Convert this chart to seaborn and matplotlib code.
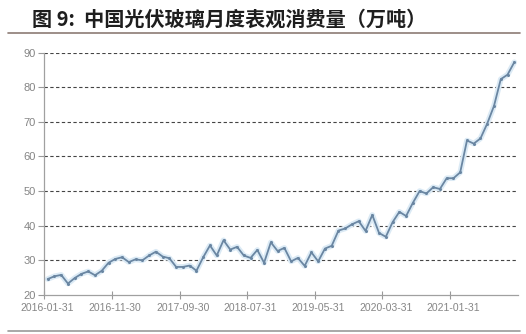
import numpy as np
import pandas as pd
import matplotlib
matplotlib.use("Agg")
import matplotlib.pyplot as plt
import seaborn as sns

title_text = "图 9:  中国光伏玻璃月度表观消费量（万吨）"
tick_labels = ["2016-01-31", "2016-11-30", "2017-09-30", "2018-07-31",
               "2019-05-31", "2020-03-31", "2021-01-31"]
y_ticks = [20, 30, 40, 50, 60, 70, 80, 90]
consumption = [
    24.6, 25.4, 25.8, 23.3, 24.9, 26.1, 26.8, 25.7, 27.0, 29.3,
    30.4, 30.9, 29.5, 30.3, 30.0, 31.4, 32.5, 31.1, 30.6, 28.1,
    28.1, 28.5, 27.0, 30.9, 34.3, 31.4, 35.8, 33.1, 33.9, 31.4,
    30.7, 33.0, 29.3, 35.2, 32.7, 33.6, 29.7, 30.7, 28.4, 32.3,
    29.7, 33.4, 34.2, 38.6, 39.2, 40.4, 41.3, 38.5, 43.1, 37.9,
    36.8, 41.0, 44.0, 42.8, 46.6, 50.0, 49.3, 51.1, 50.6, 53.7,
    53.7, 55.4, 64.6, 63.7, 65.2, 69.5, 74.6, 82.3, 83.6, 87.2,
]

sns.set_theme(style="white")
plt.rcParams['font.family'] = ['Noto Sans CJK SC', 'DejaVu Sans']

df = pd.DataFrame({"month": np.arange(len(consumption)), "value": consumption})

fig = plt.figure(figsize=(5.26, 3.34), dpi=100)
ax = fig.add_axes([0.0842, 0.1168, 0.9000, 0.7260])

sns.lineplot(data=df, x="month", y="value", ax=ax, color="#dbeaf5",
             linewidth=4.0, legend=False)
sns.lineplot(data=df, x="month", y="value", ax=ax, color="#6a86a2",
             linewidth=1.3, marker="o", markersize=2.2,
             markeredgewidth=0, legend=False)

ax.set_xlim(-0.5, len(consumption) - 0.5)
ax.set_ylim(20, 90)

for v in y_ticks[1:]:
    ax.axhline(v, color="#444444", linewidth=0.8, linestyle=(0, (3, 2.2)),
               zorder=0)

label_pos = [i * 10 for i in range(len(tick_labels))]
ax.set_xticks(label_pos)
ax.set_xticklabels(tick_labels)
ax.set_xticks([p - 0.5 for p in label_pos], minor=True)
ax.tick_params(axis="x", which="major", length=0, pad=6)
ax.tick_params(axis="x", which="minor", length=6, width=0.8,
               color="#999999", direction="inout", bottom=True)
ax.set_yticks(y_ticks)
ax.tick_params(axis="y", length=4, width=0.8, color="#999999",
               left=True, pad=2)
for lab in ax.get_xticklabels():
    lab.set_family(['Liberation Sans', 'DejaVu Sans'])
    lab.set_fontsize(7.5)
    lab.set_color("#858585")
for lab in ax.get_yticklabels():
    lab.set_family(['Liberation Sans', 'DejaVu Sans'])
    lab.set_fontsize(8)
    lab.set_color("#858585")

ax.set_xlabel("")
ax.set_ylabel("")
for s in ["top", "right"]:
    ax.spines[s].set_visible(False)
ax.spines["left"].set_color("#a0a0a0")
ax.spines["bottom"].set_color("#a0a0a0")
ax.spines["left"].set_linewidth(0.9)
ax.spines["bottom"].set_linewidth(0.9)

fig.text(32 / 526, 1 - 19 / 334, title_text, fontsize=14.5, fontweight="bold",
         color="#1e1e1e", ha="left", va="center")
fig.add_artist(plt.Line2D([8 / 526, 520 / 526], [1 - 33 / 334, 1 - 33 / 334],
                          color="#8c7b74", linewidth=1.2))
fig.add_artist(plt.Line2D([8 / 526, 520 / 526], [1 - 331 / 334, 1 - 331 / 334],
                          color="#9a9a9a", linewidth=1.2))

fig.savefig("out.png", dpi=100)
